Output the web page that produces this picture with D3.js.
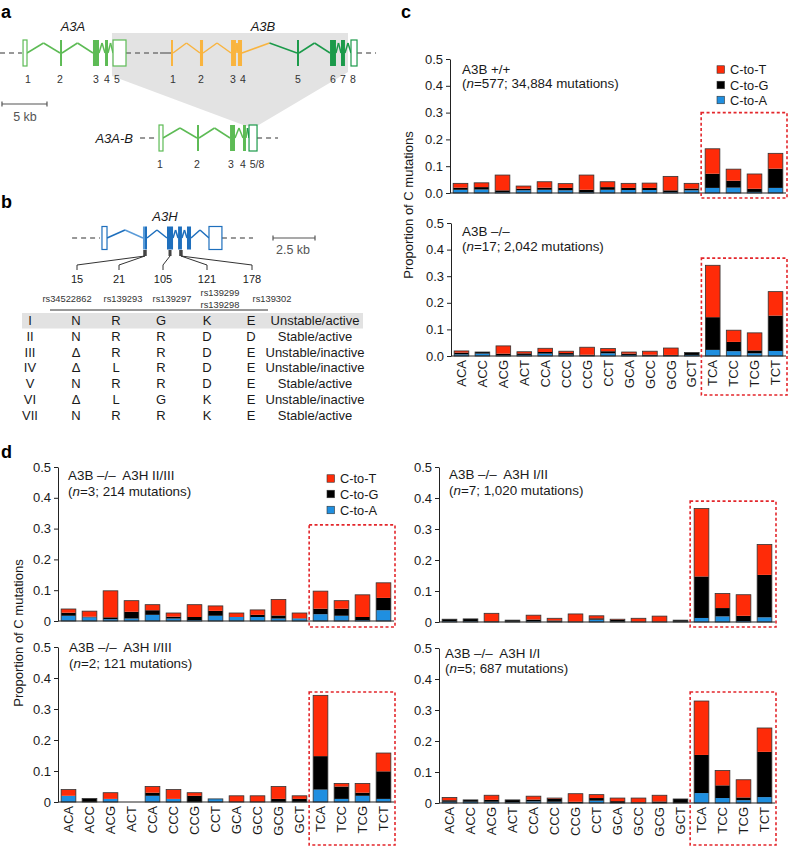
<!DOCTYPE html>
<html><head><meta charset="utf-8">
<script src="https://cdn.jsdelivr.net/npm/d3@7"></script>
<style>
body{margin:0;background:#fff}
svg{display:block}
text{font-family:"Liberation Sans",Arial,Helvetica,sans-serif}
</style>
</head><body>
<svg id="fig" width="788" height="847"></svg>
<script>
// ---------------- DATA ----------------
const contexts = ["ACA","ACC","ACG","ACT","CCA","CCC","CCG","CCT","GCA","GCC","GCG","GCT","TCA","TCC","TCG","TCT"];
const seriesKeys = ["A","G","T"];
const seriesNames = {T:"C-to-T", G:"C-to-G", A:"C-to-A"};
const yTicks = [0,0.1,0.2,0.3,0.4,0.5];

// Panel c, A3B +/+
const cTopA = [0.012,0.013,0.003,0.010,0.012,0.010,0.003,0.012,0.011,0.011,0.003,0.010,0.019,0.020,0.004,0.019];
const cTopG = [0.008,0.009,0.007,0.006,0.008,0.009,0.009,0.010,0.008,0.008,0.007,0.007,0.053,0.026,0.012,0.072];
const cTopT = [0.016,0.016,0.057,0.010,0.022,0.016,0.055,0.020,0.017,0.018,0.052,0.019,0.093,0.043,0.055,0.057];
// Panel c, A3B -/-
const cBotA = [0.006,0.009,0.002,0.004,0.009,0.005,0.001,0.010,0.004,0.001,0.001,0.004,0.023,0.018,0.010,0.019];
const cBotG = [0.007,0.006,0.007,0.006,0.006,0.006,0.004,0.008,0.005,0.004,0.003,0.009,0.123,0.035,0.011,0.133];
const cBotT = [0.006,0.000,0.029,0.006,0.014,0.007,0.028,0.010,0.006,0.013,0.026,0.000,0.195,0.044,0.066,0.090];
// Panel d, A3H II/III
const dIIIIIA = [0.017,0.012,0.006,0.008,0.020,0.008,0.003,0.017,0.013,0.013,0.008,0.008,0.022,0.017,0.003,0.035];
const dIIIIIG = [0.010,0.002,0.006,0.022,0.015,0.006,0.010,0.016,0.000,0.007,0.010,0.001,0.018,0.023,0.010,0.040];
const dIIIIIT = [0.012,0.018,0.086,0.036,0.018,0.012,0.040,0.016,0.013,0.016,0.052,0.017,0.057,0.026,0.072,0.049];
// Panel d, A3H I/II
const dIIIA = [0.002,0.002,0.000,0.001,0.002,0.001,0.000,0.0075,0.001,0.000,0.000,0.001,0.013,0.018,0.003,0.015];
const dIIIG = [0.007,0.008,0.002,0.005,0.006,0.004,0.001,0.0045,0.006,0.001,0.001,0.005,0.134,0.027,0.017,0.137];
const dIIIT = [0.000,0.000,0.026,0.000,0.014,0.007,0.025,0.008,0.002,0.011,0.018,0.000,0.219,0.047,0.068,0.098];
// Panel d, A3H I/III
const dIIIIA = [0.020,0.000,0.010,0.000,0.020,0.010,0.000,0.010,0.000,0.000,0.000,0.000,0.040,0.010,0.020,0.010];
const dIIIIG = [0.000,0.011,0.000,0.000,0.010,0.000,0.020,0.000,0.000,0.000,0.010,0.010,0.108,0.040,0.010,0.089];
const dIIIIT = [0.020,0.000,0.020,0.000,0.020,0.030,0.010,0.000,0.020,0.020,0.040,0.010,0.196,0.010,0.030,0.059];
// Panel d, A3H I/I
const dIIA = [0.004,0.004,0.004,0.002,0.005,0.004,0.000,0.0075,0.000,0.000,0.000,0.000,0.032,0.016,0.009,0.019];
const dIIG = [0.005,0.006,0.006,0.008,0.006,0.010,0.004,0.0085,0.006,0.002,0.005,0.013,0.123,0.041,0.009,0.146];
const dIIT = [0.009,0.000,0.015,0.000,0.011,0.002,0.026,0.011,0.010,0.014,0.020,0.000,0.174,0.048,0.057,0.077];

// Panel b table
const haplotypes = ["I","II","III","IV","V","VI","VII"];
const res15  = ["N","N","\u0394","\u0394","N","\u0394","N"];
const res21  = ["R","R","R","L","R","L","R"];
const res105 = ["G","R","R","R","R","G","R"];
const res121 = ["K","D","D","D","D","K","K"];
const res178 = ["E","D","E","E","E","E","E"];
const statusTxt = ["Unstable/active","Stable/active","Unstable/inactive","Unstable/inactive","Stable/active","Unstable/inactive","Stable/active"];
const aaPositions = ["15","21","105","121","178"];
const snpIds = ["rs34522862","rs139293","rs139297","rs139299\nrs139298","rs139302"];

// Gene structures (kb)
const a3aExons = [[2.56,3.0,"open"],[6.67,6.89,"fill"],[10.33,11.0,"fill"],[11.67,12.0,"fill"],[12.56,14.0,"open"]];
const a3aNums  = [["1",3.11],["2",6.67],["3",10.67],["4",11.89],["5",13.0]];
const a3bExons = [[19.0,19.22,"fill","o"],[22.22,22.56,"fill","o"],[25.67,26.22,"fill","o"],[26.44,26.89,"fill","o"],
                  [33.0,33.22,"fill","g"],[36.67,37.33,"fill","g"],[37.89,38.33,"fill","g"],[39.0,39.67,"open","g"]];
const a3bNums  = [["1",19.22],["2",22.33],["3",25.89],["4",27.0],["5",33.11],["6",37.0],["7",38.11],["8",39.22]];
const a3abExons = [[17.67,18.11,"open","l"],[21.89,22.11,"fill","l"],[25.56,26.11,"fill","l"],[27.0,27.33,"fill","l"],[27.67,28.56,"open","g"]];
const a3abNums  = [["1",17.78],["2",21.89],["3",25.67],["4",27.0],["5/8",28.56]];
const a3hExons = [[6.07,6.37,"open","b"],[8.51,8.63,"fill","lb"],[8.63,8.75,"fill","b"],[9.94,10.30,"fill","b"],[10.60,10.83,"fill","b"],[11.13,11.37,"fill","b"],[12.44,13.21,"open","b"]];

// ---------------- DRAW ----------------
const svg = d3.select("#fig");
const COL = {T:"#ff2b08", G:"#000000", A:"#1f8fe0"};
const GC = {l:"#5dbb55", g:"#1b9a4a", o:"#f9b43f", b:"#1e6fbd", lb:"#5a9bd8"};
const ANN = 13.4;

function txt(g, x, y, s, opt={}){
  const t = g.append("text").attr("x",x).attr("y",y).text(s)
    .attr("font-size", opt.size||13).attr("fill", opt.fill||"#1a1a1a")
    .attr("text-anchor", opt.anchor||"start");
  if(opt.italic) t.attr("font-style","italic");
  if(opt.bold) t.attr("font-weight","bold");
  return t;
}

// panel letters
[["a",1,18],["b",1,208],["c",401,18],["d",1,458]].forEach(([s,x,y])=>txt(svg,x,y,s,{size:18,bold:true,fill:"#000"}));

// ---- Panel a ----
const ga = svg.append("g");
const kbA = d3.scaleLinear().domain([0,5]).range([0,45]);
const shade = [[12.44,33],[38.67,33],[38.67,72],[28.56,126],[27.33,126],[12.44,76]];
ga.append("path").attr("d", d3.line().x(d=>kbA(d[0])).y(d=>d[1])(shade)+"Z").attr("fill","#e3e3e3");

function dashed(g, sc, a, b, y, col="#777"){
  g.append("line").attr("x1",sc(a)).attr("x2",sc(b)).attr("y1",y).attr("y2",y)
    .attr("stroke",col).attr("stroke-width",1.3).attr("stroke-dasharray","5,4");
}
function track(g, sc, exons, y, hh, peak, defaultCol){
  const colOf = e => e[3] ? GC[e[3]] : defaultCol;
  for(let i=0;i<exons.length-1;i++){
    const a = sc(exons[i][1]), b = sc(exons[i+1][0]);
    if(b-a < 0.5) continue;
    const m = (a+b)/2;
    g.append("path").attr("d",`M${a},${y}L${m},${y-peak}`).attr("stroke",colOf(exons[i])).attr("fill","none").attr("stroke-width",1.5);
    g.append("path").attr("d",`M${m},${y-peak}L${b},${y}`).attr("stroke",colOf(exons[i+1])).attr("fill","none").attr("stroke-width",1.5);
  }
  exons.forEach(e=>{
    const c = colOf(e);
    const r = g.append("rect").attr("x",sc(e[0])).attr("width",Math.max(1,sc(e[1])-sc(e[0])))
      .attr("y",y-hh).attr("height",2*hh);
    if(e[2]==="open") r.attr("fill","#fff").attr("stroke",c).attr("stroke-width",1.2);
    else r.attr("fill",c);
  });
}
dashed(ga,kbA,0,2.44,53);
dashed(ga,kbA,14.0,17.78,53);
ga.append("line").attr("x1",kbA(17.78)).attr("x2",kbA(19.0)).attr("y1",53).attr("y2",53).attr("stroke","#666").attr("stroke-width",1.3);
dashed(ga,kbA,39.67,41.78,53);
track(ga,kbA,a3aExons,53,13,10,GC.l);
track(ga,kbA,a3bExons,53,13,10,GC.o);
a3aNums.concat(a3bNums).forEach(([s,k])=>txt(ga,kbA(k),83,s,{size:10.5,anchor:"middle",fill:"#333"}));
txt(ga,73,31,"A3A",{italic:true,anchor:"middle",size:13});
txt(ga,263,31,"A3B",{italic:true,anchor:"middle",size:13});
const sbA = ga.append("g").attr("stroke","#555").attr("stroke-width",1.2);
sbA.append("line").attr("x1",kbA(0.22)).attr("x2",kbA(5.22)).attr("y1",104).attr("y2",104);
sbA.append("line").attr("x1",kbA(0.22)).attr("x2",kbA(0.22)).attr("y1",101.5).attr("y2",106.5);
sbA.append("line").attr("x1",kbA(5.22)).attr("x2",kbA(5.22)).attr("y1",101.5).attr("y2",106.5);
txt(ga,25,121,"5 kb",{size:12.5,anchor:"middle",fill:"#555"});
dashed(ga,kbA,15.56,17.44,138);
dashed(ga,kbA,28.56,30.89,138);
track(ga,kbA,a3abExons,138,13,10,GC.l);
a3abNums.forEach(([s,k])=>txt(ga,kbA(k),168,s,{size:10.5,anchor:"middle",fill:"#333"}));
txt(ga,133,142.5,"A3A-B",{italic:true,anchor:"end",size:13});

// ---- Panel b ----
const gb = svg.append("g");
const kbB = d3.scaleLinear().domain([0,2.5]).range([0,42]);
dashed(gb,kbB,4.29,5.95,238);
dashed(gb,kbB,13.21,15.06,238);
track(gb,kbB,a3hExons,238,11.5,8,GC.b);
txt(gb,165,221,"A3H",{italic:true,anchor:"middle",size:13});
const sbB = gb.append("g").attr("stroke","#555").attr("stroke-width",1.2);
sbB.append("line").attr("x1",kbB(16.25)).attr("x2",kbB(18.75)).attr("y1",238).attr("y2",238);
sbB.append("line").attr("x1",kbB(16.25)).attr("x2",kbB(16.25)).attr("y1",235.5).attr("y2",240.5);
sbB.append("line").attr("x1",kbB(18.75)).attr("x2",kbB(18.75)).attr("y1",235.5).attr("y2",240.5);
txt(gb,276,254,"2.5 kb",{size:12.5,fill:"#555"});
const colX = [77,119,163,207,252];
const connFrom = [8.63,8.63,10.12,10.77,10.77];
connFrom.forEach((k,i)=>{
  const sx = kbB(k);
  gb.append("rect").attr("x",sx-1.5).attr("y",250).attr("width",3).attr("height",6).attr("fill","#444");
  gb.append("path").attr("d",`M${sx},256L${colX[i]},265L${colX[i]},270`).attr("fill","none").attr("stroke","#333").attr("stroke-width",1);
});
aaPositions.forEach((s,i)=>txt(gb,colX[i],283,s,{size:11,anchor:"middle"}));
const snpX = [67,123,172,220,272];
snpIds.forEach((s,i)=>{
  const parts = s.split("\n");
  if(parts.length===1) txt(gb,snpX[i],302,s,{size:9.3,anchor:"middle",fill:"#333"});
  else { txt(gb,snpX[i],296,parts[0],{size:9.3,anchor:"middle",fill:"#333"}); txt(gb,snpX[i],307.5,parts[1],{size:9.3,anchor:"middle",fill:"#333"}); }
});
gb.append("line").attr("x1",50).attr("x2",268).attr("y1",310).attr("y2",310).attr("stroke","#333").attr("stroke-width",1);
gb.append("rect").attr("x",22).attr("y",313).attr("width",341).attr("height",15.5).attr("fill","#e2e2e2");
const tblCols = [[haplotypes,30],[res15,76],[res21,116],[res105,161],[res121,207],[res178,251],[statusTxt,315]];
haplotypes.forEach((h,r)=>{
  const yb = 325 + r*15.83;
  tblCols.forEach(([arr,x])=>txt(gb,x,yb,arr[r],{size:13,anchor:"middle"}));
});

// ---- Bar panels ----
function barPanel(cfg){
  const g = svg.append("g");
  const x = d3.scaleBand().domain(contexts).range([cfg.ax, cfg.xEnd]).paddingInner(0.3).paddingOuter(0.15);
  const y = d3.scaleLinear().domain([0,0.5]).range([cfg.y0, cfg.y5]);
  const rows = contexts.map((c,i)=>({ctx:c, A:cfg.A[i], G:cfg.G[i], T:cfg.T[i]}));
  const stacked = d3.stack().keys(seriesKeys)(rows);
  g.selectAll("g.layer").data(stacked).join("g").attr("class","layer").attr("fill",d=>COL[d.key])
    .selectAll("rect").data(d=>d).join("rect")
    .attr("x",d=>x(d.data.ctx)).attr("width",x.bandwidth())
    .attr("y",d=>y(d[1])).attr("height",d=>Math.max(0,y(d[0])-y(d[1])));
  g.selectAll("rect.outline").data(rows.filter(r=>r.A+r.G+r.T>0)).join("rect").attr("class","outline")
    .attr("x",d=>x(d.ctx)).attr("width",x.bandwidth())
    .attr("y",d=>y(d.A+d.G+d.T)).attr("height",d=>y(0)-y(d.A+d.G+d.T))
    .attr("fill","none").attr("stroke","#333").attr("stroke-width",0.8);
  const axis = d3.axisLeft(y).tickValues(yTicks).tickSize(4).tickSizeOuter(0).tickPadding(3).tickFormat(cfg.fmt);
  const ag = g.append("g").attr("transform",`translate(${cfg.ax},0)`).call(axis);
  ag.selectAll("text").attr("font-size",13).attr("font-family",null).attr("fill","#1a1a1a");
  ag.selectAll("line,path").attr("stroke","#222").attr("stroke-width",1);
  g.append("line").attr("x1",cfg.ax).attr("x2",cfg.xEnd).attr("y1",cfg.y0).attr("y2",cfg.y0).attr("stroke","#222").attr("stroke-width",1);
  if(cfg.labels){
    g.selectAll("text.cat").data(contexts).join("text").attr("class","cat")
      .attr("transform",d=>`translate(${x(d)+x.bandwidth()/2},${cfg.y0+4}) rotate(-90)`)
      .attr("text-anchor","end").attr("dy","0.36em").attr("font-size",13).attr("fill","#1a1a1a").text(d=>d);
  }
  g.append("text").attr("x",cfg.annX).attr("y",cfg.annY[0]).attr("font-size",ANN).attr("fill","#1a1a1a")
    .style("white-space","pre").text(cfg.ann1);
  const t2 = g.append("text").attr("x",cfg.annX).attr("y",cfg.annY[1]).attr("font-size",ANN).attr("fill","#1a1a1a");
  t2.append("tspan").text("(");
  t2.append("tspan").attr("font-style","italic").text("n");
  t2.append("tspan").text(cfg.ann2);
  if(cfg.legend){
    ["T","G","A"].forEach((k,i)=>{
      const cy = cfg.legend.ys[i];
      g.append("rect").attr("x",cfg.legend.x).attr("y",cy-3.75).attr("width",7.5).attr("height",7.5)
        .attr("fill",COL[k]).attr("stroke","#333").attr("stroke-width",0.6);
      g.append("text").attr("x",cfg.legend.x+13).attr("y",cy+4.5).attr("font-size",12.8).attr("fill","#1a1a1a").text(seriesNames[k]);
    });
  }
  const bx0 = x("TCA") - 4, bx1 = cfg.xEnd + 1;
  const by0 = y(cfg.boxTop), by1 = cfg.y0 + cfg.boxBelow;
  g.append("rect").attr("x",bx0).attr("y",by0).attr("width",bx1-bx0).attr("height",by1-by0)
    .attr("fill","none").attr("stroke","#e3262b").attr("stroke-width",1.6).attr("stroke-dasharray","3,2.4");
}
const fmtC = d3.format(".1f");
const fmtD = d => d===0 ? "0" : d3.format(".1f")(d);

barPanel({A:cTopA,G:cTopG,T:cTopT, ax:450, xEnd:786, y0:193, y5:59, fmt:fmtC, labels:false,
  annX:462, annY:[74,88], ann1:"A3B +/+", ann2:"=577; 34,884 mutations)",
  legend:{x:717, ys:[69.5,85,100]}, boxTop:0.30, boxBelow:5});
barPanel({A:cBotA,G:cBotG,T:cBotT, ax:451, xEnd:786, y0:356, y5:223, fmt:fmtC, labels:true,
  annX:462, annY:[236,250.5], ann1:"A3B \u2013/\u2013", ann2:"=17; 2,042 mutations)",
  boxTop:0.368, boxBelow:39});
barPanel({A:dIIIIIA,G:dIIIIIG,T:dIIIIIT, ax:58, xEnd:394, y0:621, y5:467, fmt:fmtD, labels:false,
  annX:68, annY:[479.5,495.5], ann1:"A3B \u2013/\u2013  A3H II/III", ann2:"=3; 214 mutations)",
  legend:{x:327, ys:[478.5,494,510]}, boxTop:0.312, boxBelow:6});
barPanel({A:dIIIA,G:dIIIG,T:dIIIT, ax:439, xEnd:775, y0:622, y5:467, fmt:fmtD, labels:false,
  annX:449, annY:[478.5,495], ann1:"A3B \u2013/\u2013  A3H I/II", ann2:"=7; 1,020 mutations)",
  boxTop:0.39, boxBelow:5});
barPanel({A:dIIIIA,G:dIIIIG,T:dIIIIT, ax:58, xEnd:394, y0:802, y5:647, fmt:fmtD, labels:true,
  annX:69, annY:[652,667.5], ann1:"A3B \u2013/\u2013  A3H I/III", ann2:"=2; 121 mutations)",
  boxTop:0.355, boxBelow:43});
barPanel({A:dIIA,G:dIIG,T:dIIT, ax:439, xEnd:775, y0:803, y5:648, fmt:fmtD, labels:true,
  annX:445, annY:[658,673], ann1:"A3B \u2013/\u2013  A3H I/I", ann2:"=5; 687 mutations)",
  boxTop:0.358, boxBelow:42});

svg.append("text").attr("transform","translate(413,205) rotate(-90)").attr("text-anchor","middle")
  .attr("font-size",13).attr("fill","#1a1a1a").text("Proportion of C mutations");
svg.append("text").attr("transform","translate(23,633) rotate(-90)").attr("text-anchor","middle")
  .attr("font-size",13).attr("fill","#1a1a1a").text("Proportion of C mutations");
</script>
</body></html>
